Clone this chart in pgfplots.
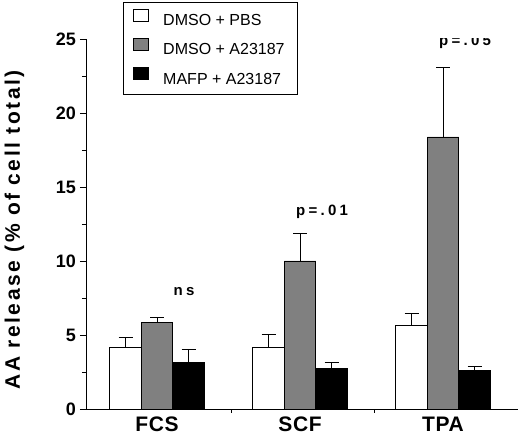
\documentclass[border=0pt]{standalone}
\usepackage{fontspec}
\setmainfont{Liberation Sans}
\newfontfamily\ylabfont[LetterSpace=12]{Liberation Sans}
\newfontfamily\annfont[LetterSpace=22]{Liberation Sans}
\newfontfamily\catfont[LetterSpace=3]{Liberation Sans}
\usepackage{pgfplots}
\pgfplotsset{compat=1.18}
\definecolor{barGray}{RGB}{128,128,128}
\newcommand{\legfont}{\fontsize{16}{19}\selectfont}
\newcommand{\annfs}{\fontsize{15}{18}\selectfont\bfseries\annfont}

\begin{document}
\begin{tikzpicture}
  \useasboundingbox (-86pt,-33pt) rectangle (434pt,409pt);
  \begin{axis}[
    at={(0,0)}, anchor=south west,
    scale only axis,
    width=432pt, height=370pt,
    xmin=-0.4965, xmax=2.524,
    ymin=0, ymax=25,
    axis lines=left,
    axis line style={-, line width=0.9pt},
    tick align=outside,
    ybar=0pt, bar width=31.5pt,
    xtick={0,1,2},
    xticklabels={FCS,SCF,TPA},
    x tick style={draw=none},
    xticklabel style={font=\fontsize{21}{24}\selectfont\bfseries\catfont, anchor=north, inner sep=0pt, yshift=-2pt},
    extra x ticks={0.517,1.517},
    extra x tick labels={},
    extra x tick style={x tick style={draw=black, line width=0.9pt}, major tick length=4pt},
    ytick={0,5,10,15,20,25},
    minor y tick num=1,
    major tick length=6pt, minor tick length=4pt,
    y tick style={line width=0.9pt, black},
    yticklabel style={font=\fontsize{18}{20}\selectfont\bfseries, inner sep=0pt, xshift=-4pt},
    /pgf/number format/assume math mode=true,
    ylabel={\ylabfont\bfseries AA release (\% of cell total)},
    ylabel style={at={(axis description cs:-0.153,0.484)}, anchor=base, rotate=0, font=\fontsize{21}{24}\selectfont},
    legend style={at={(axis description cs:0.0856,1.1)}, anchor=north west,
      draw=black, line width=0.9pt, inner xsep=10pt, inner ysep=6.5pt,
      font=\legfont, row sep=9pt,
      /tikz/every odd column/.append style={column sep=12pt}},
    legend cell align=left,
    legend image code/.code={\draw[#1, line width=0.8pt] (0pt,-0.5pt) rectangle (15pt,11.5pt);},
    error bars/y dir=plus,
    error bars/y explicit,
    error bars/error bar style={line width=0.9pt, black},
    error bars/error mark options={rotate=90, mark size=7pt, line width=0.9pt, black},
  ]
  % DMSO + PBS
  \addplot[fill=white, draw=black, line width=0.9pt]
    coordinates {(0,4.14) +- (0,0.68) (1,4.14) +- (0,0.91) (2,5.63) +- (0,0.81)};
  \addlegendentry{\legfont\makebox[122pt][l]{DMSO + PBS}}
  % DMSO + A23187
  \addplot[fill=barGray, draw=black, line width=0.9pt]
    coordinates {(0,5.83) +- (0,0.37) (1,10.0) +- (0,1.87) (2,18.38) +- (0,4.71)};
  \addlegendentry{\legfont\makebox[122pt][l]{DMSO + A23187}}
  % MAFP + A23187
  \addplot[fill=black, draw=black, line width=0.9pt]
    coordinates {(0,3.17) +- (0,0.83) (1,2.77) +- (0,0.38) (2,2.61) +- (0,0.29)};
  \addlegendentry{\legfont\makebox[122pt][l]{MAFP + A23187}}
  % significance labels
  \node[anchor=base] at (axis cs:0.189,7.64) {\annfs ns};
  \node[anchor=base] at (axis cs:1.154,13.1) {\annfs p=.01};
  \node[anchor=base] at (axis cs:2.154,24.53) {\annfs p=.05};
  \end{axis}
\end{tikzpicture}
\end{document}
